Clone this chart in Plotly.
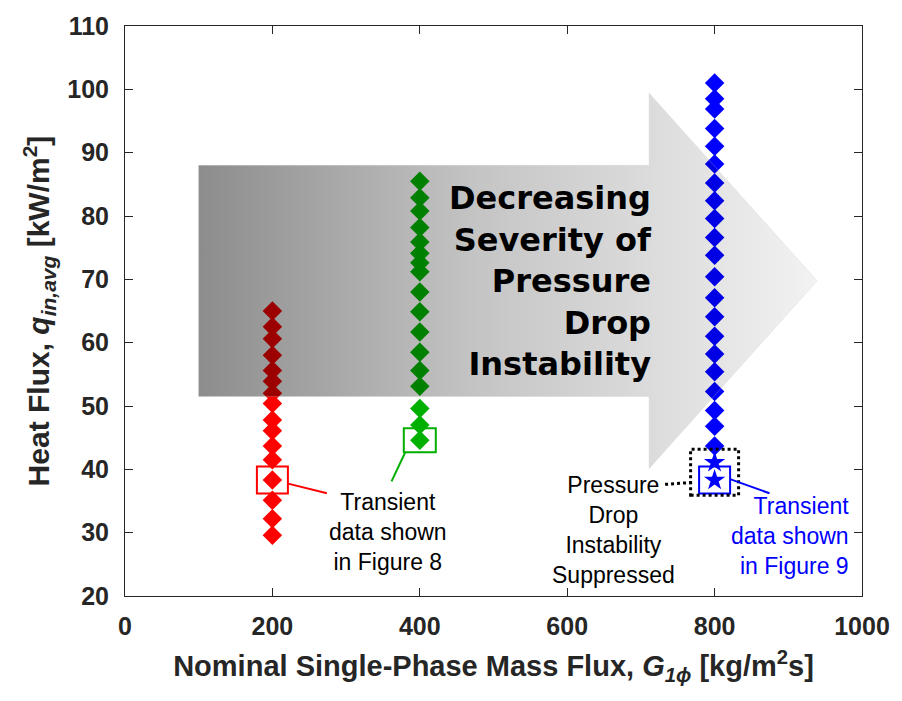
import plotly.graph_objects as go

# ---------------- data ----------------
g_red = 200
q_red = [65.0, 62.5, 60.6, 58.0, 55.6, 53.9, 52.0, 50.4, 47.8, 46.1, 43.7, 41.5, 38.3, 35.1, 32.2, 29.6]
g_green = 400
q_green = [85.5, 82.9, 80.8, 78.2, 75.9, 74.1, 72.6, 71.2, 68.0, 64.9, 61.7, 58.5, 55.6, 53.1, 49.6, 47.0, 44.6]
g_blue = 800
q_blue = [101.0, 98.5, 96.9, 93.8, 91.0, 88.2, 85.2, 82.4, 79.6, 76.6, 73.8, 70.4, 67.1, 64.1,
          61.0, 58.2, 55.4, 52.3, 49.3, 46.8, 43.7]
q_blue_star = [41.1, 38.3]          # pressure-drop instability suppressed
q_red_transient = 38.3
q_green_transient = 44.6
q_blue_transient = 38.3

x_ticks = [0, 200, 400, 600, 800, 1000]
y_ticks = [20, 30, 40, 50, 60, 70, 80, 90, 100, 110]

RED = "rgb(255,0,0)"
GREEN = "rgb(0,176,0)"
BLUE = "rgb(0,0,255)"
AX = "#262626"
FONT = "Liberation Sans, Arial, Helvetica, sans-serif"
WIDE = "DejaVu Sans, Liberation Sans, sans-serif"

# pixel helpers for decorations (plot area: x 125..866, y 19..596)
PL, PR, PT, PB = 125, 866, 19, 596
def px2x(px):
    return (px - PL) / (PR - PL) * 1000.0
def py2y(py):
    return 20 + (PB - py) / (PB - PT) * 90.0

fig = go.Figure()

def diamonds(g, q, color):
    fig.add_trace(go.Scatter(x=[g] * len(q), y=q, mode="markers",
                             marker=dict(symbol="diamond", size=15, color=color,
                                         line=dict(width=0)),
                             hoverinfo="skip", showlegend=False))

diamonds(g_red, q_red, RED)
diamonds(g_green, q_green, GREEN)
diamonds(g_blue, q_blue, BLUE)
fig.add_trace(go.Scatter(x=[g_blue] * len(q_blue_star), y=q_blue_star, mode="markers",
                         marker=dict(symbol="star", size=16, color=BLUE, line=dict(width=0)),
                         hoverinfo="skip", showlegend=False))

# ---------------- gradient arrow (overlay) ----------------
arrow_px = [(199, 160), (652, 160), (652, 87), (821, 277), (652, 467), (652, 394), (199, 394), (199, 160)]
fig.add_trace(go.Scatter(
    x=[px2x(p[0]) for p in arrow_px], y=[py2y(p[1]) for p in arrow_px],
    mode="lines", fill="toself", line=dict(width=0.8, color="rgba(200,200,200,0.35)"),
    fillgradient=dict(type="horizontal",
                      colorscale=[[0.0, "rgba(0,0,0,0.45)"], [0.45, "rgba(0,0,0,0.23)"],
                                  [0.73, "rgba(0,0,0,0.14)"], [1.0, "rgba(0,0,0,0.05)"]]),
    hoverinfo="skip", showlegend=False))

shapes = []
# transient-data boxes
def box(g, q, color, w=32, h=27):
    shapes.append(dict(type="rect", xref="x", yref="y", xsizemode="pixel", ysizemode="pixel",
                       xanchor=g, yanchor=q, x0=-w / 2, x1=w / 2, y0=-h / 2, y1=h / 2,
                       line=dict(color=color, width=2), fillcolor="rgba(0,0,0,0)"))
box(g_red, q_red_transient, RED, 31, 27)
box(g_green, q_green_transient, GREEN, 32, 24)
box(g_blue, q_blue_transient, BLUE, 31, 27)
# dotted box around suppressed points
shapes.append(dict(type="rect", xref="x", yref="y", xsizemode="pixel", ysizemode="pixel",
                   xanchor=g_blue, yanchor=(q_blue_star[0] + q_blue_star[1]) / 2,
                   x0=-24, x1=24, y0=-24, y1=22,
                   line=dict(color="black", width=3, dash="dot"), fillcolor="rgba(0,0,0,0)"))

def seg(p0, p1, color, dash="solid", width=2):
    shapes.append(dict(type="line", xref="x", yref="y",
                       x0=px2x(p0[0]), y0=py2y(p0[1]), x1=px2x(p1[0]), y1=py2y(p1[1]),
                       line=dict(color=color, width=width, dash=dash)))
seg((288, 482), (328, 492), RED)
seg((407, 450), (393, 480), GREEN)
seg((734, 478), (773, 492), BLUE)
seg((668, 483), (696, 481), "black", dash="dot", width=3)

annotations = [
    dict(x=px2x(657), y=py2y(277), xref="x", yref="y", xanchor="right", yanchor="middle",
         text="Decreasing<br>Severity of<br>Pressure<br>Drop<br>Instability", align="right",
         showarrow=False, font=dict(family=WIDE, size=32, color="black", weight="bold")),
    dict(x=px2x(389), y=py2y(531), xref="x", yref="y", xanchor="center", yanchor="middle",
         text="Transient<br>data shown<br>in Figure 8", align="center", showarrow=False,
         font=dict(family=FONT, size=23, color="black")),
    dict(x=px2x(616), y=py2y(529), xref="x", yref="y", xanchor="center", yanchor="middle",
         text="Pressure<br>Drop<br>Instability<br>Suppressed", align="center", showarrow=False,
         font=dict(family=FONT, size=23, color="black")),
    dict(x=px2x(855), y=py2y(535), xref="x", yref="y", xanchor="right", yanchor="middle",
         text="Transient<br>data shown<br>in Figure 9", align="right", showarrow=False,
         font=dict(family=FONT, size=23, color=BLUE)),
]

axis_common = dict(showgrid=False, zeroline=False, showline=True, linecolor=AX, linewidth=1,
                   mirror="ticks", ticks="inside", ticklen=8, tickcolor=AX, tickwidth=1,
                   tickfont=dict(family=FONT, size=25, color=AX, weight="bold"))

fig.update_layout(
    width=902, height=701,
    margin=dict(l=PL, r=902 - PR, t=PT, b=701 - PB),
    paper_bgcolor="white", plot_bgcolor="white",
    xaxis=dict(range=[0, 1000], tickvals=x_ticks, ticktext=[str(v) for v in x_ticks],
               ticklabelstandoff=8,
               title=dict(text="Nominal Single-Phase Mass Flux, <i>G</i><sub><i>1ϕ</i></sub> [kg/m<sup>2</sup>s]",
                          font=dict(family=FONT, size=29, color=AX, weight="bold"), standoff=16),
               **axis_common),
    yaxis=dict(range=[20, 110], tickvals=y_ticks, ticktext=[str(v) for v in y_ticks],
               ticklabelstandoff=10,
               title=dict(text="Heat Flux, <i>q</i><sub><i>in,avg</i></sub> [kW/m<sup>2</sup>]",
                          font=dict(family=FONT, size=30, color=AX, weight="bold"), standoff=8),
               **axis_common),
    shapes=shapes, annotations=annotations,
)

fig.write_html("out.html")
